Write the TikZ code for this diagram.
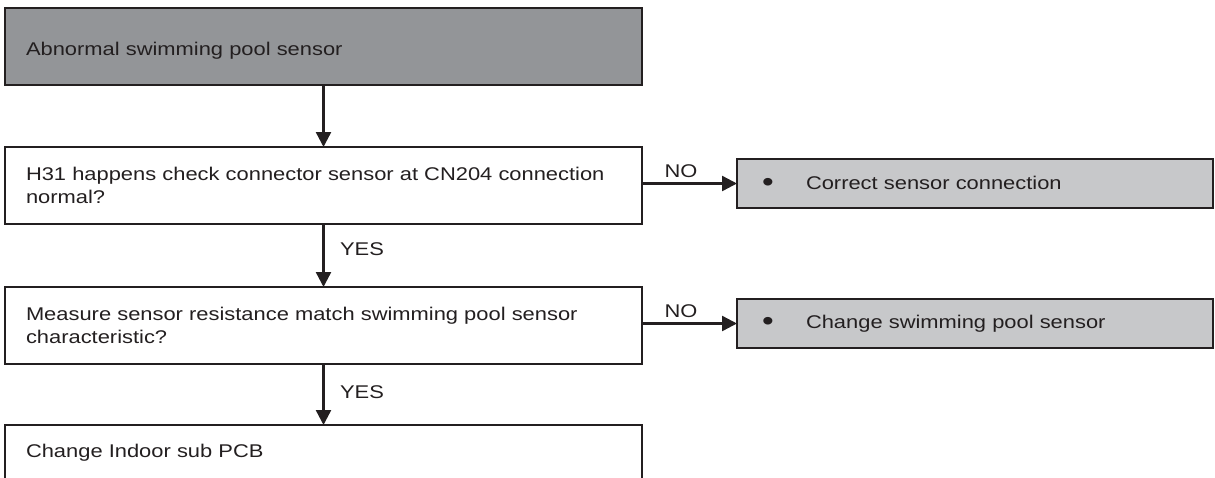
\documentclass[tikz,border=0pt]{standalone}
\usepackage{fontspec}
\setmainfont{Liberation Sans}[FakeStretch=1.19]
\usetikzlibrary{arrows.meta}
\definecolor{ink}{HTML}{231F20}
\definecolor{darkfill}{HTML}{939598}
\definecolor{lightfill}{HTML}{C7C8CA}
\tikzset{
  basebox/.style={draw=ink, line width=1pt, rectangle, anchor=north west, outer sep=0pt,
    inner xsep=10.5pt, inner ysep=0pt, text width=297.5pt, align=left, text=ink,
    font=\fontsize{9.2}{11.4}\selectfont},
  headbox/.style={basebox, fill=darkfill, minimum height=38.5pt, text height=9.5pt, text depth=0.5pt},
  stepbox/.style={basebox, fill=white, minimum height=38.5pt},
  resultbox/.style={draw=ink, line width=1.2pt, rectangle, anchor=north west, outer sep=0pt,
    fill=lightfill, inner xsep=12.5pt, inner ysep=0pt, text width=213pt, align=left, text=ink,
    minimum height=24.5pt, font=\fontsize{9.2}{11.4}\selectfont},
  lbl/.style={text=ink, inner sep=0pt, font=\fontsize{9.2}{10.2}\selectfont},
  flow/.style={draw=ink, line width=1.2pt, -{Triangle[length=7.5pt,width=7.5pt]}},
}
\newcommand{\bul}{\makebox[22pt][l]{\raisebox{-1pt}{\fontsize{14}{14}\selectfont\textbullet}}}
\begin{document}
\begin{tikzpicture}[x=0.5pt,y=-0.5pt]
\useasboundingbox (0,0) rectangle (1215,477);
\clip (0,0) rectangle (1215,477);
\node[headbox] (b1) at (5,8) {Abnormal swimming pool sensor};
\node[stepbox] (b2) at (5,147) {H31 happens check connector sensor at CN204 connection\\normal?};
\node[stepbox] (b3) at (5,287) {Measure sensor resistance match swimming pool sensor\\characteristic?};
\node[stepbox, minimum height=27.5pt] (b4) at (5,425) {Change Indoor sub PCB};
\node[resultbox] (r1) at (737,159) {\bul Correct sensor connection};
\node[resultbox] (r2) at (737,299) {\bul Change swimming pool sensor};
\draw[flow] (b1.south) -- (b2.north);
\draw[flow] (b2.south) -- (b3.north);
\draw[flow] (b3.south) -- (b4.north);
\draw[flow] (b2.east |- r1.west) -- (r1.west);
\draw[flow] (b3.east |- r2.west) -- (r2.west);
\node[lbl] (yes1) at (362,249) {YES};
\node[lbl] (yes2) at (362,392) {YES};
\node[lbl] (no1) at (681,171) {NO};
\node[lbl] (no2) at (681,311) {NO};
\end{tikzpicture}
\end{document}
